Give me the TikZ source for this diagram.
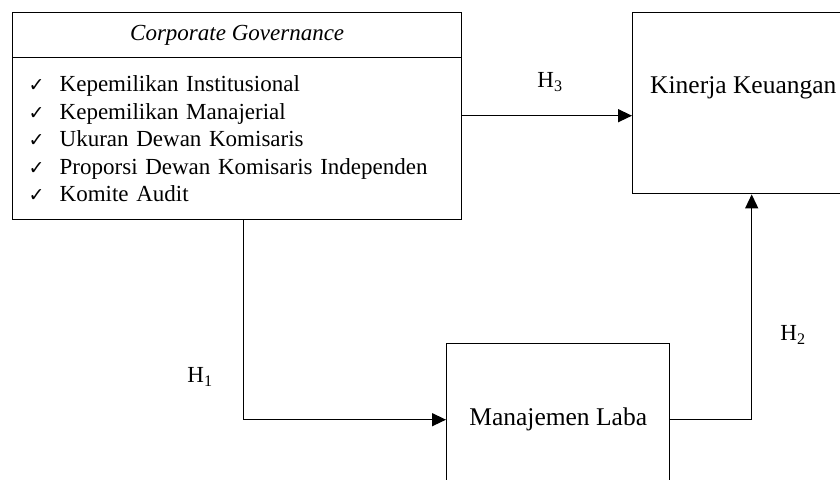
\documentclass[tikz,border=0pt]{standalone}
\usepackage{fontspec}
\setmainfont{Liberation Serif}
\newfontfamily\dejavu{DejaVu Sans}
\usetikzlibrary{arrows.meta}
\newcommand{\ck}{\makebox[31pt][l]{{\dejavu\fontsize{19}{19}\selectfont ✓}}}
\begin{document}
\begin{tikzpicture}[x=1pt,y=-1pt,
  boxline/.style={draw=black, line width=1.4pt},
  arr/.style={line width=1.4pt, -{Triangle[length=14pt,width=13pt]}},
  hlab/.style={font=\fontsize{23}{27}\selectfont, inner sep=0pt},
  big/.style={font=\fontsize{25.5}{30}\selectfont}]
\useasboundingbox (0,0) rectangle (840,479);
\fill[white] (0,0) rectangle (840,479);
% left box
\node[boxline, anchor=north west, minimum width=449, minimum height=45, inner sep=0pt,
  font=\fontsize{23}{27}\selectfont\itshape] (cgt) at (12,12) {Corporate Governance};
\node[boxline, anchor=north west, minimum height=162, text width=417, inner xsep=16pt,
  inner ysep=0pt, align=left, font=\fontsize{23}{27.5}\selectfont] (cgl) at (12,57)
  {\ck Kepemilikan Institusional\\
   \ck Kepemilikan Manajerial\\
   \ck Ukuran Dewan Komisaris\\
   \ck Proporsi Dewan Komisaris Independen\\
   \ck Komite Audit};
% right box
\node[boxline, anchor=north west, minimum width=238, minimum height=181, inner sep=0pt] (kk) at (632,12) {};
\node[big, anchor=west, inner sep=0pt] (kkt) at (650,88) {Kinerja Keuangan};
% bottom box
\node[boxline, anchor=north west, minimum width=223, minimum height=152, inner sep=0pt, big] (ml) at (446,343) {Manajemen Laba};
% connectors
\coordinate (h3s) at ([yshift=23pt]cgl.east);
\draw[arr] (h3s) -- (h3s -| kk.west);
\draw[arr] ([xshift=6.5pt]cgl.south) |- (ml.west);
\draw[arr] (ml.east) -| (kk.south);
% labels
\node[hlab] (h3) at (550,82) {H\textsubscript{3}};
\node[hlab] (h1) at (200,377) {H\textsubscript{1}};
\node[hlab] (h2) at (793,335) {H\textsubscript{2}};
\end{tikzpicture}
\end{document}
